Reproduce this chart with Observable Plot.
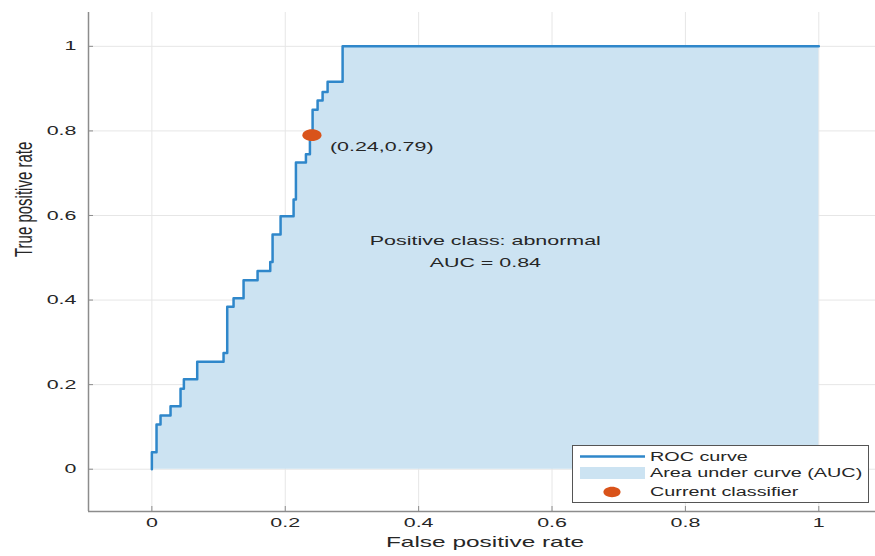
<!DOCTYPE html>
<html>
<head>
<meta charset="utf-8">
<script src="https://cdn.jsdelivr.net/npm/d3@7"></script>
<script src="https://cdn.jsdelivr.net/npm/@observablehq/plot@0.6"></script>
<style>
  html, body { margin: 0; padding: 0; background: #fff; }
</style>
</head>
<body>
<div id="chart"></div>
<script>
// ---- data ----
const fpr = [0, 0, 0.007, 0.013, 0.028, 0.043, 0.048, 0.068, 0.1075, 0.113, 0.1225, 0.1375, 0.1585, 0.1775, 0.181, 0.193, 0.2125, 0.216, 0.231, 0.237, 0.241, 0.2485, 0.256, 0.2635, 0.286, 1];
const tpr = [0, 0.040, 0.106, 0.127, 0.149, 0.190, 0.213, 0.254, 0.275, 0.384, 0.404, 0.447, 0.469, 0.490, 0.555, 0.598, 0.638, 0.725, 0.745, 0.790, 0.850, 0.872, 0.892, 0.916, 1.0, 1.0];
const classifierFpr = 0.24;
const classifierTpr = 0.79;
const auc = 0.84;
const positiveClass = "abnormal";
const xTicks = [0, 0.2, 0.4, 0.6, 0.8, 1];
const yTicks = [0, 0.2, 0.4, 0.6, 0.8, 1];
const xLabel = "False positive rate";
const yLabel = "True positive rate";
const legendLabels = ["ROC curve", "Area under curve (AUC)", "Current classifier"];

// ---- styling ----
const lineColor = "#2f87ca";
const areaColor = "#cce3f2";
const dotColor = "#d9531a";
const textColor = "#262626";
const axisColor = "#8c8c8c";
const gridColor = "#e6e6e6";
const font = "'Liberation Sans', Arial, Helvetica, sans-serif";
const S = 1.65; // horizontal stretch of the reference picture

const W = 875, H = 556;
const mt = 12, mr = 0, mb = 45, ml = 88;
const innerW = W - ml - mr, innerH = H - mt - mb;

const roc = fpr.map((x, i) => ({fpr: x, tpr: tpr[i]}));
const classifier = [{fpr: classifierFpr, tpr: classifierTpr}];

const ellipse = {
  draw(ctx, size) {
    const r = Math.sqrt(size / Math.PI), rx = r * S, ry = r, k = 0.5523;
    ctx.moveTo(rx, 0);
    ctx.bezierCurveTo(rx, k * ry, k * rx, ry, 0, ry);
    ctx.bezierCurveTo(-k * rx, ry, -rx, k * ry, -rx, 0);
    ctx.bezierCurveTo(-rx, -k * ry, -k * rx, -ry, 0, -ry);
    ctx.bezierCurveTo(k * rx, -ry, rx, -k * ry, rx, 0);
    ctx.closePath();
  }
};

const xDomain = [-0.095, 1.085];
const yDomain = [-0.1, 1.08];

const svg = Plot.plot({
  width: W,
  height: H,
  marginTop: mt, marginRight: mr, marginBottom: mb, marginLeft: ml,
  style: {fontFamily: font, background: "#fff", color: textColor, overflow: "visible"},
  x: {domain: xDomain},
  y: {domain: yDomain},
  marks: [
    Plot.gridX(xTicks, {stroke: gridColor, strokeOpacity: 1}),
    Plot.gridY(yTicks, {stroke: gridColor, strokeOpacity: 1}),
    Plot.areaY(roc, {x: "fpr", y: "tpr", curve: "step-after", fill: areaColor}),
    Plot.line(roc, {x: "fpr", y: "tpr", curve: "step-after", stroke: lineColor, strokeWidth: 2.5}),
    Plot.ruleX([xDomain[0]], {stroke: axisColor, strokeWidth: 1.5}),
    Plot.ruleY([yDomain[0]], {stroke: axisColor, strokeWidth: 1.5}),
    Plot.tickX(xTicks, {x: d => d, insetTop: innerH - 5, stroke: axisColor}),
    Plot.tickY(yTicks, {y: d => d, insetRight: innerW - 5, stroke: axisColor}),
    Plot.axisX({ticks: xTicks, tickSize: 0, tickPadding: 6, fontSize: 13, fill: textColor, label: null, tickFormat: d => String(d)}),
    Plot.axisY({ticks: yTicks, tickSize: 0, tickPadding: 12, fontSize: 13, fill: textColor, label: null, tickFormat: d => String(d)}),
    Plot.dot(classifier, {x: "fpr", y: "tpr", r: 5.8, symbol: ellipse, fill: dotColor, stroke: "none"}),
    Plot.text(classifier, {x: "fpr", y: "tpr", text: d => `(${d.fpr},${d.tpr})`, textAnchor: "start", dx: 18, dy: 12, fontSize: 13, fill: textColor}),
    Plot.text([`Positive class: ${positiveClass}\nAUC = ${auc}`], {x: 0.5, y: 0.52, fontSize: 13, lineHeight: 1.69, fill: textColor}),
    Plot.text([xLabel], {frameAnchor: "bottom", dx: 3, dy: 35, fontSize: 14.8, fill: textColor}),
    Plot.text([yLabel], {frameAnchor: "left", dx: -64, dy: -5, rotate: -90, fontSize: 15, fill: textColor})
  ]
});

// legend
const sel = d3.select(svg);
const lg = sel.append("g").attr("font-family", font).attr("font-size", 12)
  .attr("fill", textColor).attr("text-anchor", "start");
lg.append("rect").attr("x", 572.5).attr("y", 445.5).attr("width", 296).attr("height", 57)
  .attr("fill", "#fff").attr("stroke", "#555").attr("stroke-width", 1);
lg.append("line").attr("x1", 580).attr("x2", 645).attr("y1", 456.5).attr("y2", 456.5)
  .attr("stroke", lineColor).attr("stroke-width", 2.5);
lg.append("rect").attr("x", 580).attr("y", 467).attr("width", 65).attr("height", 12).attr("fill", areaColor);
lg.append("path").attr("transform", "translate(612,492)")
  .attr("d", d3.symbol(ellipse, Math.PI * 5.2 * 5.2)()).attr("fill", dotColor);
const ly = [457, 473.5, 492];
legendLabels.forEach((t, i) => {
  lg.append("text").attr("transform", `translate(650,${ly[i]})`).attr("dy", "0.32em")
    .attr("text-anchor", "start").text(t);
});

// reproduce the horizontal stretch of the reference picture on every text
svg.querySelectorAll("text").forEach(t => {
  const tr = t.getAttribute("transform") || "";
  t.setAttribute("transform", tr + (tr.includes("rotate") ? ` scale(1,${S})` : ` scale(${S},1)`));
});

document.getElementById("chart").appendChild(svg);
</script>
</body>
</html>
